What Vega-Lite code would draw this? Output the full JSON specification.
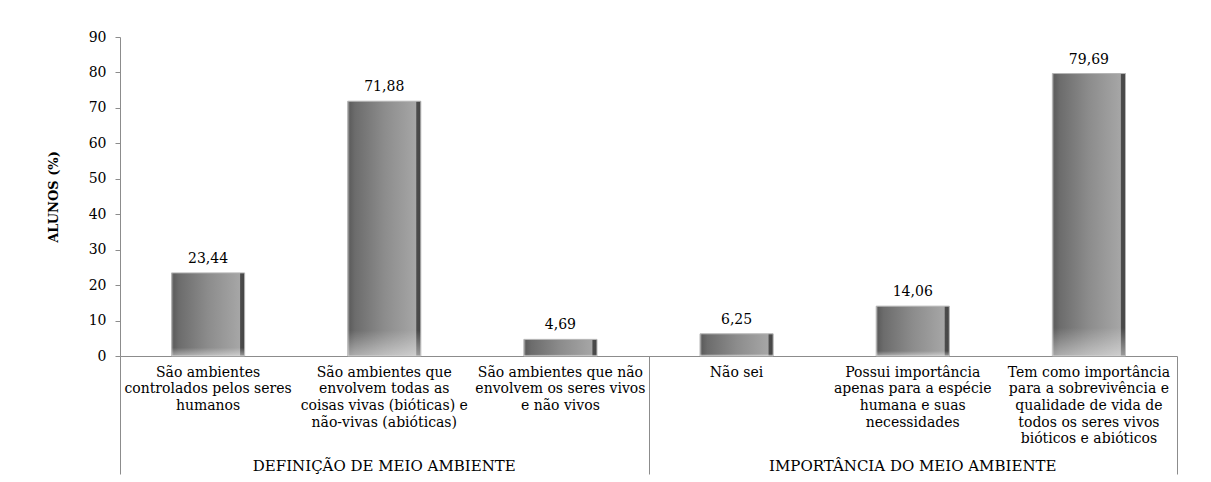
{
  "$schema": "https://vega.github.io/schema/vega-lite/v6.json",
  "width": 1057,
  "height": 319,
  "autosize": "none",
  "padding": {"left": 120, "top": 37, "right": 34, "bottom": 126},
  "background": "white",
  "config": {
    "view": {"stroke": null},
    "font": "DejaVu Serif",
    "locale": {
      "number": {"decimal": ",", "thousands": ".", "grouping": [3], "currency": ["R$", ""]}
    },
    "axisY": {
      "tickCount": 10,
      "grid": false,
      "domainColor": "#8c8c8c",
      "tickColor": "#8c8c8c",
      "tickSize": 5,
      "labelPadding": 9,
      "labelFontSize": 14,
      "labelColor": "#000000",
      "titleFont": "DejaVu Serif",
      "titleFontWeight": "bold",
      "titleFontSize": 13,
      "titleColor": "#000000",
      "titlePadding": 28
    }
  },
  "data": {
    "values": [
      {"ordem": 1, "grupo": "DEFINIÇÃO DE MEIO AMBIENTE", "categoria": "São ambientes\ncontrolados pelos seres\nhumanos", "alunos": 23.44},
      {"ordem": 2, "grupo": "DEFINIÇÃO DE MEIO AMBIENTE", "categoria": "São ambientes que\nenvolvem todas as\ncoisas vivas (bióticas) e\nnão-vivas (abióticas)", "alunos": 71.88},
      {"ordem": 3, "grupo": "DEFINIÇÃO DE MEIO AMBIENTE", "categoria": "São ambientes que não\nenvolvem os seres vivos\ne não vivos", "alunos": 4.69},
      {"ordem": 4, "grupo": "IMPORTÂNCIA DO MEIO AMBIENTE", "categoria": "Não sei", "alunos": 6.25},
      {"ordem": 5, "grupo": "IMPORTÂNCIA DO MEIO AMBIENTE", "categoria": "Possui importância\napenas para a espécie\nhumana e suas\nnecessidades", "alunos": 14.06},
      {"ordem": 6, "grupo": "IMPORTÂNCIA DO MEIO AMBIENTE", "categoria": "Tem como importância\npara a sobrevivência e\nqualidade de vida de\ntodos os seres vivos\nbióticos e abióticos", "alunos": 79.69}
    ]
  },
  "layer": [
    {
      "encoding": {
        "x": {
          "field": "categoria",
          "type": "nominal",
          "sort": {"field": "ordem"},
          "scale": {"paddingInner": 0.585, "paddingOuter": 0.2925},
          "axis": {
            "orient": "bottom",
            "title": null,
            "ticks": false,
            "domainColor": "#8c8c8c",
            "labelAngle": 0,
            "labelExpr": "split(datum.label, '\\n')",
            "labelFontSize": 14,
            "labelLineHeight": 16.7,
            "labelBaseline": "top",
            "labelPadding": 9,
            "labelColor": "#000000",
            "labelOverlap": false,
            "labelBound": false,
            "labelLimit": 300
          }
        },
        "y": {
          "field": "alunos",
          "type": "quantitative",
          "scale": {"domain": [0, 90], "nice": false},
          "axis": {"title": "ALUNOS (%)"}
        }
      },
      "layer": [
        {
          "mark": {
            "type": "bar",
            "stroke": "#b4b4b4",
            "strokeWidth": 1,
            "color": {
              "gradient": "linear",
              "x1": 0, "y1": 0, "x2": 1, "y2": 0,
              "stops": [
                {"offset": 0, "color": "#9a9a9a"},
                {"offset": 0.03, "color": "#5e5e5e"},
                {"offset": 0.1, "color": "#6c6c6c"},
                {"offset": 0.5, "color": "#8c8c8c"},
                {"offset": 0.93, "color": "#a6a6a6"},
                {"offset": 0.945, "color": "#4c4c4c"},
                {"offset": 1, "color": "#454545"}
              ]
            }
          }
        },
        {
          "mark": {
            "type": "bar",
            "strokeWidth": 0,
            "color": {
              "gradient": "linear",
              "x1": 0, "y1": 0, "x2": 0, "y2": 1,
              "stops": [
                {"offset": 0, "color": "rgba(255,255,255,0)"},
                {"offset": 0.9, "color": "rgba(255,255,255,0)"},
                {"offset": 1, "color": "rgba(255,255,255,0.45)"}
              ]
            }
          }
        },
        {
          "mark": {"type": "text", "baseline": "alphabetic", "dy": -10, "fontSize": 14, "color": "#000000"},
          "encoding": {
            "text": {"field": "alunos", "type": "quantitative", "format": ".2f"}
          }
        }
      ]
    },
    {
      "transform": [
        {"aggregate": [{"op": "mean", "field": "ordem", "as": "centro"}], "groupby": ["grupo"]}
      ],
      "mark": {"type": "text", "baseline": "alphabetic", "dy": 115, "fontSize": 15, "color": "#000000"},
      "encoding": {
        "x": {
          "field": "centro",
          "type": "quantitative",
          "scale": {"domain": [0.5, 6.5], "nice": false, "zero": false},
          "axis": {
            "orient": "bottom",
            "values": [0.5, 3.5, 6.5],
            "title": null,
            "labels": false,
            "domain": false,
            "grid": false,
            "tickSize": 118,
            "tickColor": "#8c8c8c"
          }
        },
        "y": {"datum": 0, "type": "quantitative"},
        "text": {"field": "grupo", "type": "nominal"}
      }
    }
  ],
  "resolve": {"scale": {"x": "independent"}, "axis": {"x": "independent"}}
}
